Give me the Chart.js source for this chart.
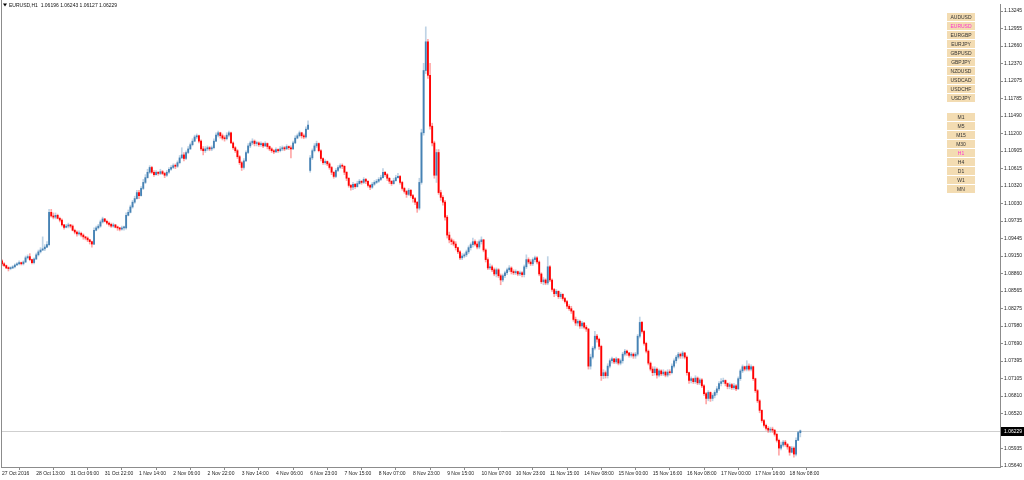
<!DOCTYPE html>
<html>
<head>
<meta charset="utf-8">
<title>EURUSD,H1</title>
<script src="https://cdn.jsdelivr.net/npm/chart.js@4.4.1/dist/chart.umd.min.js"></script>
<style>
  html, body { margin: 0; padding: 0; background: #fff; }
  canvas { display: block; }
</style>
</head>
<body>
<canvas id="chart" width="1024" height="480"></canvas>
<script>
// EURUSD H1, 27 Oct 2016 21:00 .. 18 Nov 2016, one value per hourly bar
const closes = [
  1.0902,1.0899,1.0895,1.0894,1.0895,1.0897,1.0900,1.0902,1.0904,1.0902,
  1.0905,1.0912,1.0914,1.0909,1.0904,1.0910,1.0917,1.0922,1.0925,1.0927,
  1.0930,1.0934,1.0988,1.0982,1.0980,1.0983,1.0978,1.0975,1.0967,1.0963,
  1.0965,1.0967,1.0965,1.0958,1.0955,1.0952,1.0953,1.0950,1.0947,1.0945,
  1.0942,1.0939,1.0935,1.0958,1.0962,1.0965,1.0972,1.0977,1.0973,1.0970,
  1.0968,1.0965,1.0967,1.0963,1.0962,1.0960,1.0962,1.0962,1.0983,1.0988,
  1.0997,1.1005,1.1011,1.1021,1.1016,1.1028,1.1038,1.1046,1.1055,1.1063,
  1.1055,1.1051,1.1055,1.1053,1.1056,1.1053,1.1050,1.1055,1.1060,1.1063,
  1.1066,1.1065,1.1071,1.1079,1.1084,1.1078,1.1088,1.1094,1.1101,1.1107,
  1.1114,1.1116,1.1107,1.1094,1.1091,1.1094,1.1096,1.1094,1.1096,1.1107,
  1.1117,1.1121,1.1116,1.1112,1.1111,1.1117,1.1121,1.1104,1.1096,1.1091,
  1.1081,1.1071,1.1063,1.1074,1.1088,1.1099,1.1104,1.1107,1.1103,1.1104,
  1.1101,1.1103,1.1099,1.1103,1.1098,1.1094,1.1091,1.1089,1.1093,1.1091,
  1.1094,1.1096,1.1094,1.1098,1.1096,1.1094,1.1104,1.1112,1.1116,1.1121,
  1.1116,1.1114,1.1127,1.1134,1.1079,1.1091,1.1099,1.1103,1.1091,1.1078,
  1.1071,1.1073,1.1069,1.1063,1.1055,1.1048,1.1058,1.1063,1.1066,1.1065,
  1.1055,1.1045,1.1033,1.1030,1.1035,1.1031,1.1036,1.1040,1.1038,1.1043,
  1.1040,1.1033,1.1030,1.1035,1.1038,1.1040,1.1043,1.1046,1.1055,1.1051,
  1.1045,1.1040,1.1036,1.1041,1.1046,1.1048,1.1038,1.1028,1.1023,1.1018,
  1.1025,1.1016,1.1011,1.1005,1.0995,1.1038,1.1121,1.1225,1.1273,1.1217,
  1.1132,1.1104,1.1050,1.1088,1.1021,1.1013,1.1005,1.0980,1.0950,1.0942,
  1.0939,1.0935,1.0929,1.0922,1.0912,1.0915,1.0917,1.0922,1.0929,1.0934,
  1.0939,1.0935,1.0930,1.0939,1.0942,1.0925,1.0909,1.0895,1.0897,1.0892,
  1.0885,1.0892,1.0882,1.0875,1.0882,1.0887,1.0892,1.0895,1.0889,1.0887,
  1.0889,1.0885,1.0887,1.0884,1.0897,1.0909,1.0905,1.0902,1.0909,1.0912,
  1.0905,1.0885,1.0872,1.0875,1.0870,1.0897,1.0875,1.0859,1.0852,1.0856,
  1.0847,1.0851,1.0844,1.0839,1.0831,1.0827,1.0823,1.0809,1.0803,1.0806,
  1.0798,1.0803,1.0796,1.0793,1.0731,1.0746,1.0761,1.0781,1.0776,1.0764,
  1.0715,1.0720,1.0715,1.0731,1.0740,1.0743,1.0738,1.0743,1.0736,1.0740,
  1.0751,1.0756,1.0753,1.0749,1.0751,1.0748,1.0751,1.0781,1.0804,1.0789,
  1.0769,1.0756,1.0736,1.0726,1.0720,1.0726,1.0716,1.0723,1.0718,1.0721,
  1.0716,1.0721,1.0720,1.0731,1.0740,1.0746,1.0751,1.0748,1.0753,1.0746,
  1.0720,1.0707,1.0710,1.0705,1.0711,1.0703,1.0708,1.0698,1.0685,1.0677,
  1.0687,1.0677,1.0682,1.0687,1.0693,1.0702,1.0705,1.0707,1.0702,1.0697,
  1.0700,1.0695,1.0698,1.0693,1.0710,1.0723,1.0730,1.0726,1.0731,1.0726,
  1.0730,1.0710,1.0690,1.0673,1.0657,1.0640,1.0632,1.0627,1.0624,1.0625,
  1.0624,1.0617,1.0607,1.0594,1.0599,1.0604,1.0600,1.0596,1.0587,1.0594,
  1.0584,1.0607,1.0620,1.06229
];
const highs = [
  1.0909,1.0904,1.0900,1.0897,1.0897,1.0899,1.0902,1.0904,1.0907,1.0905,
  1.0907,1.0915,1.0917,1.0919,1.0910,1.0912,1.0920,1.0925,1.0929,1.0947,
  1.0934,1.0939,1.0993,1.0993,1.0987,1.0987,1.0985,1.0980,1.0977,1.0968,
  1.0968,1.0970,1.0968,1.0967,1.0960,1.0957,1.0957,1.0955,1.0952,1.0948,
  1.0947,1.0943,1.0940,1.0962,1.0965,1.0968,1.0975,1.0980,1.0978,1.0975,
  1.0972,1.0970,1.0970,1.0968,1.0965,1.0963,1.0965,1.0965,1.0987,1.0992,
  1.1000,1.1008,1.1015,1.1025,1.1025,1.1031,1.1043,1.1051,1.1060,1.1066,
  1.1065,1.1058,1.1058,1.1056,1.1060,1.1058,1.1055,1.1058,1.1063,1.1066,
  1.1069,1.1069,1.1074,1.1083,1.1096,1.1088,1.1091,1.1098,1.1104,1.1111,
  1.1117,1.1119,1.1117,1.1109,1.1098,1.1098,1.1099,1.1098,1.1099,1.1111,
  1.1121,1.1124,1.1122,1.1119,1.1116,1.1121,1.1124,1.1122,1.1106,1.1098,
  1.1093,1.1083,1.1073,1.1078,1.1091,1.1103,1.1107,1.1111,1.1109,1.1107,
  1.1106,1.1106,1.1104,1.1106,1.1104,1.1099,1.1096,1.1093,1.1096,1.1094,
  1.1098,1.1099,1.1098,1.1101,1.1099,1.1099,1.1107,1.1116,1.1119,1.1124,
  1.1122,1.1119,1.1131,1.1141,1.1083,1.1094,1.1103,1.1107,1.1104,1.1093,
  1.1079,1.1076,1.1074,1.1071,1.1065,1.1056,1.1061,1.1066,1.1069,1.1069,
  1.1066,1.1056,1.1046,1.1035,1.1038,1.1036,1.1040,1.1043,1.1041,1.1046,
  1.1045,1.1041,1.1035,1.1038,1.1041,1.1043,1.1046,1.1050,1.1061,1.1056,
  1.1053,1.1046,1.1041,1.1045,1.1050,1.1053,1.1050,1.1040,1.1030,1.1025,
  1.1028,1.1026,1.1018,1.1013,1.1006,1.1045,1.1127,1.1237,1.1298,1.1277,
  1.1237,1.1137,1.1107,1.1093,1.1093,1.1025,1.1016,1.1008,1.0983,1.0955,
  1.0945,1.0942,1.0939,1.0930,1.0924,1.0919,1.0920,1.0925,1.0932,1.0937,
  1.0945,1.0942,1.0939,1.0942,1.0947,1.0943,1.0927,1.0912,1.0902,1.0900,
  1.0895,1.0895,1.0894,1.0885,1.0885,1.0890,1.0895,1.0899,1.0897,1.0892,
  1.0892,1.0890,1.0890,1.0889,1.0900,1.0917,1.0912,1.0909,1.0912,1.0915,
  1.0914,1.0907,1.0887,1.0879,1.0877,1.0914,1.0899,1.0877,1.0861,1.0859,
  1.0857,1.0854,1.0852,1.0846,1.0841,1.0834,1.0831,1.0824,1.0813,1.0809,
  1.0808,1.0806,1.0804,1.0799,1.0794,1.0751,1.0764,1.0789,1.0784,1.0778,
  1.0766,1.0725,1.0723,1.0735,1.0743,1.0746,1.0744,1.0746,1.0744,1.0743,
  1.0754,1.0759,1.0758,1.0754,1.0754,1.0753,1.0754,1.0784,1.0813,1.0806,
  1.0791,1.0771,1.0758,1.0738,1.0730,1.0730,1.0728,1.0726,1.0725,1.0725,
  1.0723,1.0725,1.0725,1.0735,1.0743,1.0749,1.0754,1.0753,1.0756,1.0754,
  1.0748,1.0721,1.0713,1.0711,1.0715,1.0713,1.0711,1.0710,1.0700,1.0687,
  1.0690,1.0688,1.0685,1.0690,1.0697,1.0705,1.0710,1.0711,1.0708,1.0703,
  1.0703,1.0702,1.0702,1.0700,1.0713,1.0726,1.0733,1.0731,1.0740,1.0735,
  1.0733,1.0731,1.0711,1.0692,1.0675,1.0658,1.0642,1.0634,1.0630,1.0629,
  1.0629,1.0625,1.0619,1.0609,1.0604,1.0607,1.0607,1.0602,1.0597,1.0597,
  1.0596,1.0611,1.0622,1.06243
];
const lows = [
  1.0899,1.0897,1.0894,1.0890,1.0892,1.0894,1.0895,1.0899,1.0900,1.0900,
  1.0900,1.0904,1.0910,1.0907,1.0902,1.0902,1.0909,1.0915,1.0920,1.0924,
  1.0924,1.0929,1.0932,1.0980,1.0977,1.0977,1.0977,1.0972,1.0965,1.0960,
  1.0962,1.0962,1.0962,1.0957,1.0952,1.0948,1.0950,1.0947,1.0943,1.0942,
  1.0939,1.0935,1.0930,1.0934,1.0957,1.0960,1.0963,1.0970,1.0972,1.0968,
  1.0965,1.0963,1.0963,1.0962,1.0958,1.0957,1.0958,1.0958,1.0960,1.0982,
  1.0987,1.0995,1.1003,1.1010,1.1011,1.1015,1.1026,1.1036,1.1045,1.1053,
  1.1053,1.1048,1.1050,1.1050,1.1051,1.1051,1.1046,1.1048,1.1053,1.1058,
  1.1061,1.1061,1.1063,1.1069,1.1078,1.1074,1.1076,1.1086,1.1093,1.1099,
  1.1106,1.1111,1.1104,1.1091,1.1084,1.1088,1.1091,1.1091,1.1091,1.1094,
  1.1106,1.1114,1.1112,1.1109,1.1107,1.1109,1.1114,1.1103,1.1093,1.1088,
  1.1078,1.1068,1.1058,1.1060,1.1073,1.1086,1.1096,1.1101,1.1099,1.1099,
  1.1098,1.1098,1.1096,1.1098,1.1094,1.1091,1.1088,1.1086,1.1088,1.1088,
  1.1089,1.1091,1.1091,1.1093,1.1093,1.1079,1.1093,1.1103,1.1111,1.1114,
  1.1112,1.1111,1.1112,1.1126,1.1055,1.1076,1.1089,1.1096,1.1089,1.1074,
  1.1068,1.1068,1.1066,1.1060,1.1051,1.1045,1.1046,1.1056,1.1061,1.1061,
  1.1051,1.1041,1.1030,1.1025,1.1026,1.1028,1.1030,1.1035,1.1035,1.1036,
  1.1036,1.1030,1.1026,1.1028,1.1033,1.1036,1.1038,1.1041,1.1045,1.1048,
  1.1041,1.1036,1.1033,1.1035,1.1040,1.1045,1.1035,1.1025,1.1020,1.1013,
  1.1016,1.1013,1.1005,1.1001,1.0988,1.0992,1.1035,1.1117,1.1220,1.1212,
  1.1127,1.1099,1.1045,1.1038,1.1018,1.1008,1.1000,1.0975,1.0945,1.0937,
  1.0934,1.0932,1.0925,1.0919,1.0909,1.0909,1.0912,1.0914,1.0919,1.0925,
  1.0930,1.0932,1.0927,1.0927,1.0935,1.0922,1.0905,1.0892,1.0892,1.0889,
  1.0882,1.0880,1.0879,1.0867,1.0872,1.0879,1.0884,1.0889,1.0885,1.0884,
  1.0884,1.0882,1.0882,1.0880,1.0880,1.0894,1.0902,1.0899,1.0899,1.0905,
  1.0902,1.0882,1.0869,1.0867,1.0867,1.0867,1.0872,1.0856,1.0847,1.0849,
  1.0844,1.0844,1.0841,1.0836,1.0827,1.0824,1.0819,1.0806,1.0799,1.0798,
  1.0794,1.0794,1.0793,1.0789,1.0726,1.0726,1.0743,1.0758,1.0771,1.0759,
  1.0707,1.0710,1.0711,1.0711,1.0728,1.0736,1.0735,1.0735,1.0733,1.0733,
  1.0736,1.0748,1.0749,1.0746,1.0746,1.0744,1.0744,1.0748,1.0778,1.0786,
  1.0766,1.0753,1.0733,1.0723,1.0715,1.0716,1.0711,1.0713,1.0715,1.0715,
  1.0713,1.0713,1.0716,1.0718,1.0728,1.0736,1.0743,1.0744,1.0744,1.0743,
  1.0716,1.0702,1.0703,1.0702,1.0702,1.0700,1.0700,1.0695,1.0682,1.0668,
  1.0673,1.0672,1.0673,1.0678,1.0683,1.0690,1.0698,1.0702,1.0698,1.0693,
  1.0693,1.0692,1.0692,1.0690,1.0692,1.0707,1.0720,1.0723,1.0723,1.0723,
  1.0723,1.0707,1.0687,1.0670,1.0653,1.0637,1.0629,1.0624,1.0620,1.0620,
  1.0620,1.0614,1.0604,1.0582,1.0591,1.0596,1.0597,1.0592,1.0582,1.0586,
  1.0579,1.0581,1.0607,1.06127
];
// opening prices that differ from the previous close (first bar, Sunday gap, current bar)
const firstOpen = 1.0907;
const gapOpens = { 144: 1.1058, 373: 1.06196 };

const xTickBars = [0,16,32,48,64,80,96,112,128,144,160,176,192,208,224,240,256,272,288,304,320,336,352,368];
const xTickLabels = ["27 Oct 2016","28 Oct 13:00","31 Oct 06:00","31 Oct 22:00","1 Nov 14:00","2 Nov 06:00",
  "2 Nov 22:00","3 Nov 14:00","4 Nov 06:00","6 Nov 23:00","7 Nov 15:00","8 Nov 07:00","8 Nov 23:00",
  "9 Nov 15:00","10 Nov 07:00","10 Nov 23:00","11 Nov 15:00","14 Nov 08:00","15 Nov 00:00","15 Nov 16:00",
  "16 Nov 08:00","17 Nov 00:00","17 Nov 16:00","18 Nov 08:00"];
const yTicks = [1.13245,1.12955,1.12660,1.12370,1.12075,1.11785,1.11490,1.11200,1.10905,1.10615,1.10320,
  1.10030,1.09735,1.09445,1.09150,1.08860,1.08565,1.08275,1.07980,1.07690,1.07395,1.07105,1.06810,1.06520,
  1.05935,1.05640];

const symbols = ["AUDUSD","EURUSD","EURGBP","EURJPY","GBPUSD","GBPJPY","NZDUSD","USDCAD","USDCHF","USDJPY"];
const periods = ["M1","M5","M15","M30","H1","H4","D1","W1","MN"];
const lastPrice = 1.06229;

const opens = closes.map((c, i) => i === 0 ? firstOpen : (gapOpens[i] !== undefined ? gapOpens[i] : closes[i - 1]));
const UP = '70,130,180';
const DOWN = '255,0,0';
const isUp = i => closes[i] >= opens[i];
const FONT = '"Liberation Sans", Arial, sans-serif';

const overlay = {
  id: 'overlay',
  beforeDatasetsDraw(chart) {
    const { ctx, chartArea: a, scales: { y } } = chart;
    const py = Math.round(y.getPixelForValue(lastPrice)) + 0.5;
    ctx.save();
    ctx.strokeStyle = '#cfcfcf';
    ctx.lineWidth = 1;
    ctx.beginPath();
    ctx.moveTo(a.left, py);
    ctx.lineTo(a.right, py);
    ctx.stroke();
    ctx.restore();
  },
  afterDraw(chart) {
    const { ctx, chartArea: a, scales: { y } } = chart;
    ctx.save();
    // left edge of the chart window
    ctx.strokeStyle = '#8c8c8c';
    ctx.lineWidth = 1;
    ctx.beginPath();
    ctx.moveTo(1.5, 0);
    ctx.lineTo(1.5, a.bottom);
    ctx.stroke();

    // header
    ctx.fillStyle = '#000';
    ctx.beginPath();
    ctx.moveTo(3, 3.5); ctx.lineTo(7, 3.5); ctx.lineTo(5, 6.5); ctx.closePath();
    ctx.fill();
    ctx.font = '5px ' + FONT;
    ctx.textBaseline = 'middle';
    ctx.fillStyle = '#111';
    ctx.fillText('EURUSD,H1  1.06196 1.06243 1.06127 1.06229', 9, 5.5);

    // symbol / period buttons
    const drawButtons = (list, top, active) => {
      list.forEach((s, k) => {
        const by = top + k * 9;
        ctx.fillStyle = '#f3dcb2';
        ctx.fillRect(947, by, 28, 8);
        ctx.fillStyle = s === active ? '#ff33cc' : '#333';
        ctx.textAlign = 'center';
        ctx.fillText(s, 961, by + 4.3);
      });
    };
    drawButtons(symbols, 13, 'EURUSD');
    drawButtons(periods, 113, 'H1');

    // current price tag
    const py = Math.round(y.getPixelForValue(lastPrice));
    ctx.fillStyle = '#000';
    ctx.fillRect(a.right + 1, py - 4, 23, 9);
    ctx.fillStyle = '#fff';
    ctx.textAlign = 'left';
    ctx.fillText(lastPrice.toFixed(5), a.right + 4, py + 0.5);
    ctx.restore();
  }
};

new Chart(document.getElementById('chart'), {
  type: 'bar',
  data: {
    datasets: [
      {
        label: 'body',
        data: closes.map((c, i) => ({ x: i, y: [opens[i], c] })),
        backgroundColor: ctx => 'rgba(' + (isUp(ctx.dataIndex) ? UP : DOWN) + ',1)',
        barThickness: 1.2,
        minBarLength: 1,
        grouped: false,
        order: 0
      },
      {
        label: 'wick',
        data: closes.map((c, i) => ({
          x: i,
          y: [Math.min(lows[i], opens[i], c), Math.max(highs[i], opens[i], c)]
        })),
        backgroundColor: ctx => 'rgba(' + (isUp(ctx.dataIndex) ? UP : DOWN) + ',0.35)',
        barThickness: 1,
        grouped: false,
        order: 1
      }
    ]
  },
  options: {
    responsive: false,
    animation: false,
    events: [],
    layout: { padding: { left: 1, top: 0, right: 0, bottom: 0 } },
    plugins: { legend: { display: false }, tooltip: { enabled: false } },
    scales: {
      x: {
        type: 'linear',
        min: -0.467,
        max: 466.3,
        offset: false,
        afterBuildTicks: s => { s.ticks = xTickBars.map(v => ({ value: v })); },
        afterFit: s => { s.height = 13; },
        ticks: {
          autoSkip: false,
          maxRotation: 0,
          align: 'start',
          padding: 1,
          color: '#222',
          font: { family: FONT, size: 5 },
          callback: (v, i) => xTickLabels[i]
        },
        grid: { drawOnChartArea: false, tickLength: 3, color: '#8c8c8c' },
        border: { color: '#8c8c8c' }
      },
      y: {
        position: 'right',
        min: 1.05624,
        max: 1.13362,
        afterBuildTicks: s => { s.ticks = yTicks.map(v => ({ value: v })); },
        afterFit: s => { s.width = 24; },
        ticks: {
          autoSkip: false,
          padding: 1,
          color: '#222',
          font: { family: FONT, size: 5 },
          callback: v => v.toFixed(5)
        },
        grid: { drawOnChartArea: false, tickLength: 3, color: '#8c8c8c' },
        border: { color: '#8c8c8c' }
      }
    }
  },
  plugins: [overlay]
});
</script>
</body>
</html>
